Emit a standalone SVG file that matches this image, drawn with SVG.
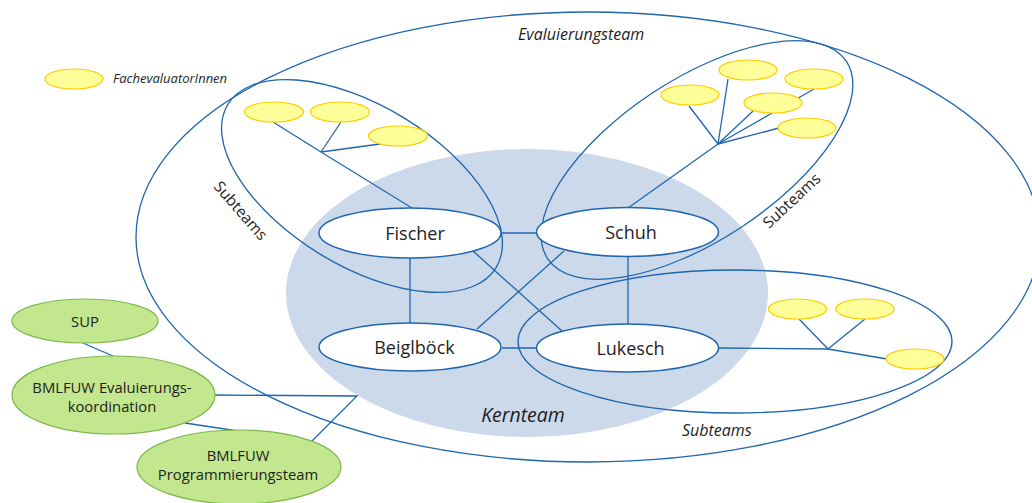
<svg xmlns="http://www.w3.org/2000/svg" width="1032" height="503" viewBox="0 0 1032 503">
<style>
.ln{fill:none;stroke:#1f66ae;stroke-width:1.3}
.bnd{fill:none;stroke:#1f66ae;stroke-width:1.3}
.core{fill:#ffffff;stroke:#1f66ae;stroke-width:1.5}
.fe{fill:#ffff99;stroke:#ffcc00;stroke-width:1.2}
.gr{fill:#c2e78e;stroke:#7fb84a;stroke-width:1.2}
text{font-family:"Open Sans","Noto Sans","DejaVu Sans",sans-serif;fill:#1e1e1e}
.nl{font-size:18px;text-anchor:middle}
.gl{font-size:14.8px;text-anchor:middle}
.it{font-style:italic}
</style>
<rect width="1032" height="503" fill="#ffffff"/>
<g id="kernteam-area">
<ellipse cx="527" cy="293" rx="241" ry="144" fill="#cbd9ea"/>
<text class="it" x="523" y="422" font-size="19.5" text-anchor="middle">Kernteam</text>
</g>
<g id="evaluierungsteam">
<ellipse class="bnd" cx="588" cy="237" rx="452" ry="225"/>
<text class="it" x="518" y="40" font-size="16">Evaluierungsteam</text>
</g>
<g id="legend">
<ellipse class="fe" cx="74" cy="79" rx="29" ry="10"/>
<text class="it" x="113" y="83" font-size="13">FachevaluatorInnen</text>
</g>
<g id="connectors">
<line class="ln" x1="502" y1="233" x2="536" y2="233"/>
<line class="ln" x1="410" y1="258" x2="410" y2="323"/>
<line class="ln" x1="628" y1="257" x2="628" y2="324"/>
<line class="ln" x1="502" y1="348" x2="536" y2="348"/>
<line class="ln" x1="473" y1="251" x2="562" y2="331"/>
<line class="ln" x1="564" y1="251" x2="477" y2="329"/>
<line class="ln" x1="321" y1="152" x2="412" y2="208"/>
<line class="ln" x1="321" y1="152" x2="273" y2="122"/>
<line class="ln" x1="321" y1="152" x2="341" y2="122"/>
<line class="ln" x1="321" y1="152" x2="380" y2="144"/>
<line class="ln" x1="718" y1="144" x2="628" y2="208"/>
<line class="ln" x1="718" y1="144" x2="689" y2="106"/>
<line class="ln" x1="718" y1="144" x2="728" y2="79"/>
<line class="ln" x1="718" y1="144" x2="814" y2="89"/>
<line class="ln" x1="718" y1="144" x2="753" y2="111"/>
<line class="ln" x1="718" y1="144" x2="779" y2="128"/>
<line class="ln" x1="718" y1="348" x2="828" y2="349"/>
<line class="ln" x1="828" y1="349" x2="799" y2="319"/>
<line class="ln" x1="828" y1="349" x2="865" y2="319"/>
<line class="ln" x1="828" y1="349" x2="887" y2="359"/>
<line class="ln" x1="83" y1="343" x2="113" y2="356"/>
<line class="ln" x1="185" y1="423" x2="238" y2="431"/>
<polyline class="ln" points="215,395 357,396 312,441"/>
</g>
<g id="subteam-fischer">
<ellipse class="bnd" cx="362" cy="186" rx="157" ry="80" transform="rotate(31.3 362 186)"/>
<text x="0" y="0" font-size="15.5" transform="translate(213,187) rotate(49)">Subteams</text>
<ellipse class="fe" cx="274" cy="112" rx="29.5" ry="10"/>
<ellipse class="fe" cx="340" cy="112" rx="29.5" ry="10"/>
<ellipse class="fe" cx="398" cy="136" rx="29.5" ry="10"/>
</g>
<g id="subteam-schuh">
<ellipse class="bnd" cx="697" cy="160" rx="179" ry="80.5" transform="rotate(-33.4 697 160)"/>
<text x="0" y="0" font-size="15.5" transform="translate(769,229) rotate(-43)">Subteams</text>
<ellipse class="fe" cx="690" cy="95" rx="29" ry="10"/>
<ellipse class="fe" cx="748" cy="70" rx="29" ry="10"/>
<ellipse class="fe" cx="814" cy="79" rx="29" ry="10"/>
<ellipse class="fe" cx="773" cy="103" rx="29" ry="10"/>
<ellipse class="fe" cx="807" cy="128" rx="29" ry="10"/>
</g>
<g id="subteam-lukesch">
<ellipse class="bnd" cx="735" cy="341.5" rx="217" ry="71.5"/>
<text class="it" x="682" y="436" font-size="16">Subteams</text>
<ellipse class="fe" cx="797.5" cy="309" rx="29" ry="10"/>
<ellipse class="fe" cx="865" cy="309" rx="29" ry="10"/>
<ellipse class="fe" cx="915" cy="359" rx="29" ry="10"/>
</g>
<g id="node-fischer">
<ellipse class="core" cx="410" cy="233" rx="91" ry="25"/>
<text class="nl" x="415" y="240">Fischer</text>
</g>
<g id="node-schuh">
<ellipse class="core" cx="627.5" cy="232" rx="91" ry="24.5"/>
<text class="nl" x="631" y="239">Schuh</text>
</g>
<g id="node-beiglboeck">
<ellipse class="core" cx="410" cy="347" rx="91" ry="24" stroke-width="3"/>
<text class="nl" x="414.5" y="354" font-size="18.5">Beiglböck</text>
</g>
<g id="node-lukesch">
<ellipse class="core" cx="627.5" cy="348" rx="91" ry="24"/>
<text class="nl" x="630.5" y="355">Lukesch</text>
</g>
<g id="node-sup">
<ellipse class="gr" cx="85" cy="321" rx="73" ry="22"/>
<text class="gl" x="85" y="327">SUP</text>
</g>
<g id="node-evalkoord">
<ellipse class="gr" cx="113.5" cy="395" rx="101.5" ry="39"/>
<text class="gl" x="112" y="393">BMLFUW Evaluierungs-</text>
<text class="gl" x="112" y="412">koordination</text>
</g>
<g id="node-progteam">
<ellipse class="gr" cx="239" cy="467" rx="102" ry="37"/>
<text class="gl" x="238" y="461">BMLFUW</text>
<text class="gl" x="238" y="480">Programmierungsteam</text>
</g>
</svg>
